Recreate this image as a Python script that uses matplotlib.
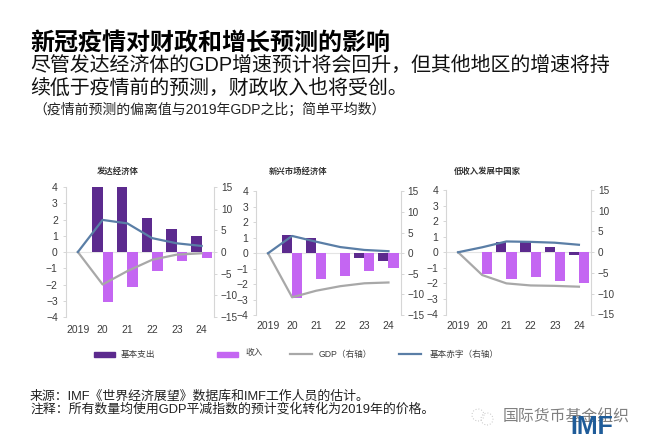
import matplotlib
matplotlib.use("Agg")
import matplotlib.pyplot as plt
from matplotlib.patches import Circle, Rectangle
from matplotlib.lines import Line2D

plt.rcParams['font.family'] = ['Liberation Sans', 'Noto Sans CJK SC', 'DejaVu Sans']

W, H = 650, 445

years = ['2019', '20', '21', '22', '23', '24']
left_ticks = [-4, -3, -2, -1, 0, 1, 2, 3, 4]
right_ticks = [-15, -10, -5, 0, 5, 10, 15]

panel_titles = ['发达经济体', '新兴市场经济体', '低收入发展中国家']

# primary spending and revenue have no 2019 bar, lines start from 0
adv_spending = [4.0, 4.0, 2.1, 1.4, 1.0]
adv_revenue = [-3.1, -2.15, -1.15, -0.55, -0.35]
adv_gdp = [0, -7.5, -4.4, -1.8, -0.6, -0.3]
adv_deficit = [0, 7.4, 6.6, 3.2, 2.0, 1.4]

em_spending = [1.2, 1.0, 0.02, -0.3, -0.5]
em_revenue = [-2.9, -1.7, -1.45, -1.15, -0.95]
em_gdp = [0, -10.7, -9.1, -8.0, -7.3, -7.1]
em_deficit = [0, 4.2, 2.8, 1.5, 0.8, 0.5]

lic_spending = [0, 0.65, 0.7, 0.35, -0.2]
lic_revenue = [-1.4, -1.75, -1.6, -1.85, -2.0]
lic_gdp = [0, -5.5, -7.5, -8.0, -8.1, -8.3]
lic_deficit = [0, 1.2, 2.6, 2.5, 2.3, 1.8]

legend_labels = ['基本支出', '收入', 'GDP（右轴）', '基本赤字（右轴）']

DARK = '#5c2a8e'
LILAC = '#c466f2'
GREY = '#a8a8a8'
BLUE = '#5a7ea6'
AXIS = '#d6d6d6'
TEXT = '#3c3c3c'


def fx(x):
    return x / W


def fy(y):
    return 1 - y / H


def draw_panel(box, title, title_x, xpad, spending, revenue, gdp, deficit):
    x0, y_top, x1, y_bot = box
    ax = fig.add_axes([fx(x0), fy(y_bot), fx(x1 - x0), (y_bot - y_top) / H])
    pos = list(range(len(years)))
    bar_x = pos[1:]
    ax.bar([p - 0.21 for p in bar_x], spending, width=0.42, color=DARK)
    ax.bar([p + 0.21 for p in bar_x], revenue, width=0.42, color=LILAC)
    ax.axhline(0, color='#e4e4e4', lw=0.8, zorder=0)
    ax.set_xlim(-0.5, 5.5)
    ax.set_ylim(-4, 4)
    ax.set_yticks(left_ticks)
    ax.set_xticks(pos)
    ax.set_xticklabels(years)
    ax.tick_params(axis='y', length=2.5, width=0.7, color=AXIS, labelsize=7.5, labelcolor=TEXT, pad=3)
    ax.tick_params(axis='x', length=0, labelsize=7.5, labelcolor=TEXT, pad=xpad)
    for s in ['top', 'right', 'bottom']:
        ax.spines[s].set_visible(False)
    ax.spines['left'].set_color(AXIS)
    ax.spines['left'].set_linewidth(0.8)

    ax2 = ax.twinx()
    ax2.plot(pos, gdp, color=GREY, lw=1.6)
    ax2.plot(pos, deficit, color=BLUE, lw=1.6)
    ax2.set_ylim(-15, 15)
    ax2.set_yticks(right_ticks)
    ax2.tick_params(axis='y', length=2.5, width=0.7, color=AXIS, labelsize=7.2, labelcolor=TEXT, pad=2.5)
    for s in ['top', 'left', 'bottom']:
        ax2.spines[s].set_visible(False)
    ax2.spines['right'].set_color(AXIS)
    ax2.spines['right'].set_linewidth(0.8)

    fig.text(fx(title_x), fy(172), title, fontsize=6, fontweight='bold', color='#333333', va='center')


fig = plt.figure(figsize=(W / 100, H / 100), dpi=100, facecolor='white')

fig.text(fx(30), fy(43), '新冠疫情对财政和增长预测的影响', fontsize=17.3, fontweight='bold', color='black', va='center')
fig.text(fx(30), fy(65), '尽管发达经济体的GDP增速预计将会回升，但其他地区的增速将持', fontsize=14.35, color='#111111', va='center')
fig.text(fx(30), fy(88), '续低于疫情前的预测，财政收入也将受创。', fontsize=14.35, color='#111111', va='center')
fig.text(fx(33), fy(110), '（疫情前预测的偏离值与2019年GDP之比；简单平均数）', fontsize=10, color='#222222', va='center')

draw_panel((65.5, 187, 214, 317), panel_titles[0], 97, 5.5, adv_spending, adv_revenue, adv_gdp, adv_deficit)
draw_panel((256, 191.5, 400.5, 315), panel_titles[1], 269, 4.5, em_spending, em_revenue, em_gdp, em_deficit)
draw_panel((446, 190, 591, 314.5), panel_titles[2], 454, 4.5, lic_spending, lic_revenue, lic_gdp, lic_deficit)

# legend sits in one row under all three panels
fig.add_artist(Rectangle((fx(94), fy(356.5)), fx(21), 5 / H, color=DARK, transform=fig.transFigure))
fig.text(fx(121), fy(354), legend_labels[0], fontsize=6.2, color=TEXT, va='center')
fig.add_artist(Rectangle((fx(217), fy(356.5)), fx(21), 5 / H, color=LILAC, transform=fig.transFigure))
fig.text(fx(245), fy(352), legend_labels[1], fontsize=6.2, color=TEXT, va='center')
fig.add_artist(Line2D([fx(290), fx(312)], [fy(354), fy(354)], color=GREY, lw=1.6, transform=fig.transFigure))
fig.text(fx(319), fy(354), legend_labels[2], fontsize=6.2, color=TEXT, va='center')
fig.add_artist(Line2D([fx(399), fx(421)], [fy(354), fy(354)], color=BLUE, lw=1.6, transform=fig.transFigure))
fig.text(fx(430), fy(354), legend_labels[3], fontsize=6.2, color=TEXT, va='center')

fig.text(fx(30), fy(396), '来源：IMF《世界经济展望》数据库和IMF工作人员的估计。', fontsize=9.3, color='#222222', va='center')
fig.text(fx(30), fy(409), '注释：所有数量均使用GDP平减指数的预计变化转化为2019年的价格。', fontsize=9.3, color='#222222', va='center')

# wechat watermark and IMF logo, bottom right
for cx, cy, r in [(478, 415, 6), (487, 419, 6)]:
    fig.add_artist(Circle((cx, H - cy), r, fill=False, ec='#c4c4c4', lw=0.7, ls=(0, (1, 2)), transform=None))
fig.text(fx(503), fy(417), '国际货币基金组织', fontsize=11.4, color='#808080', va='center')
fig.text(fx(570), fy(427), 'IMF', fontsize=18, fontweight='bold', color='#1f5c99', va='center', family=['Liberation Sans'])

fig.savefig('out.png', dpi=100)
